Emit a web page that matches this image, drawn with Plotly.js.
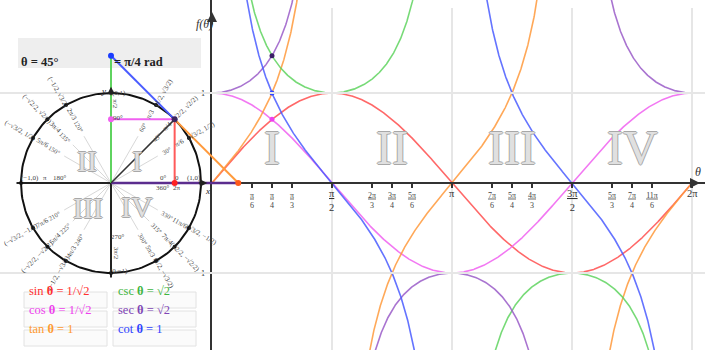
<!DOCTYPE html>
<html><head><meta charset="utf-8">
<script src="https://cdn.plot.ly/plotly-3.0.1.min.js"></script>
<style>html,body{margin:0;padding:0;background:#fff;}#chart{width:705px;height:350px;}</style>
</head><body><div id="chart"></div>
<script>
// ---------------- data ----------------
const thetaDeg = 45;
const thetaText = 'θ = 45°';
const thetaRadText = '= π/4 rad';
const funcNames = ['sin', 'cos', 'tan', 'csc', 'sec', 'cot'];
const funcValueText = ['1/√2', '1/√2', '1', '√2', '√2', '1'];
const tickNum = [1, 1, 1, 1, 2, 3, 5, 1, 7, 5, 4, 3, 5, 7, 11, 2];
const tickDen = [6, 4, 3, 2, 3, 4, 6, 1, 6, 4, 3, 2, 3, 4, 6, 1];
const specialDeg = [30, 45, 60, 120, 135, 150, 210, 225, 240, 300, 315, 330];
const specialRad = ['π/6', 'π/4', 'π/3', '2π/3', '3π/4', '5π/6', '7π/6', '5π/4', '4π/3', '5π/3', '7π/4', '11π/6'];
const specialCoord = ['(√3/2, 1/2)', '(√2/2, √2/2)', '(1/2, √3/2)', '(−1/2, √3/2)', '(−√2/2, √2/2)', '(−√3/2, 1/2)',
  '(−√3/2, −1/2)', '(−√2/2, −√2/2)', '(−1/2, −√3/2)', '(1/2, −√3/2)', '(√2/2, −√2/2)', '(√3/2, −1/2)'];
const quadrantNames = ['I', 'II', 'III', 'IV'];

// ---------------- styles ----------------
const funcColors = ['#ff4d4d', '#f060f0', '#ff9a3c', '#5fd35f', '#9a5cc8', '#4a5cff'];
const textColors = ['#ff3030', '#ee40ee', '#ff9a30', '#3fb53f', '#7f45b5', '#2f44ff'];
const SERIF = 'Liberation Serif, Times New Roman, serif';
const W = 705, H = 350;
const PX = x => x / W, PY = y => 1 - y / H;
const yMax = 183 / 90, yMin = -(H - 183) / 90;
const gScale = 120 / (Math.PI / 2);
const D = Math.PI / 180;

// ---------------- graph curves ----------------
const traces = [];
const fns = {
  sin: t => Math.sin(t), cos: t => Math.cos(t), tan: t => Math.tan(t),
  csc: t => 1 / Math.sin(t), sec: t => 1 / Math.cos(t), cot: t => Math.cos(t) / Math.sin(t)
};
const tGrid = [];
for (let i = 1; i < 1440; i++) tGrid.push(i * 2 * Math.PI / 1440);
tGrid.unshift(0); tGrid.push(2 * Math.PI);
funcNames.forEach((n, k) => {
  const ys = tGrid.map(t => { const v = fns[n](t); return (isFinite(v) && Math.abs(v) < 6) ? v : null; });
  traces.push({ x: tGrid, y: ys, xaxis: 'x', yaxis: 'y', mode: 'lines', line: { color: funcColors[k], width: 1.6 }, opacity: 0.85, hoverinfo: 'skip' });
});
const th = thetaDeg * D;
const cT = Math.cos(th), sT = Math.sin(th);
traces.push({ x: [th, th, th], y: [fns.sin(th), fns.cot(th), fns.sec(th)], xaxis: 'x', yaxis: 'y', mode: 'markers',
  marker: { size: 5, color: ['#ee40ee', '#2f44ff', '#3a1f66'] }, hoverinfo: 'skip' });

// ---------------- unit circle (x2, y) ----------------
const circX = [], circY = [];
for (let a = 0; a <= 360; a += 2) { circX.push(Math.cos(a * D)); circY.push(Math.sin(a * D)); }
const rx = [], ry = [];
specialDeg.forEach(a => { rx.push(0, 0.6 * Math.cos(a * D), null); ry.push(0, 0.6 * Math.sin(a * D), null); });
traces.push({ x: rx, y: ry, xaxis: 'x2', yaxis: 'y', mode: 'lines', line: { color: '#d8d8d8', width: 1 }, hoverinfo: 'skip' });
traces.push({ x: [-1.05, 1.05, null, 0, 0], y: [0, 0, null, -1.05, 1.05], xaxis: 'x2', yaxis: 'y', mode: 'lines', line: { color: '#222', width: 2 }, hoverinfo: 'skip' });
traces.push({ x: circX, y: circY, xaxis: 'x2', yaxis: 'y', mode: 'lines', line: { color: '#111', width: 2 }, hoverinfo: 'skip' });
const dotX = [], dotY = [];
[0, 90, 180, 270].concat(specialDeg).forEach(a => { dotX.push(Math.cos(a * D)); dotY.push(Math.sin(a * D)); });
traces.push({ x: dotX, y: dotY, xaxis: 'x2', yaxis: 'y', mode: 'markers', marker: { size: 4, color: '#111' }, hoverinfo: 'skip' });
const secV = 1 / cT, cscV = 1 / sT;
const seg = (xs, ys, col, w) => traces.push({ x: xs, y: ys, xaxis: 'x2', yaxis: 'y', mode: 'lines', line: { color: col, width: w || 2 }, hoverinfo: 'skip' });
seg([0, secV], [0, 0], '#5b2d8e', 2.5);
seg([0, 0], [0, cscV], '#5fd35f', 2);
seg([0, cT], [sT, sT], '#f060f0', 2);
seg([cT, cT], [0, sT], '#ff5a5a', 2);
seg([0, cT], [0, sT], '#333', 1.5);
seg([0, cT], [cscV, sT], '#4a5cff', 2);
seg([cT, secV], [sT, 0], '#ff9a3c', 2);
traces.push({ x: [cT, 0, secV, 0, cT], y: [0, sT, 0, cscV, sT], xaxis: 'x2', yaxis: 'y', mode: 'markers',
  marker: { size: 6, color: ['#ff2020', '#f060f0', '#ff5a1a', '#1a3cff', '#3a1f66'] }, hoverinfo: 'skip' });

// ---------------- annotations ----------------
const ann = [];
const addA = (o) => ann.push(Object.assign({ showarrow: false, font: { family: SERIF, size: 7, color: '#444' } }, o));
specialDeg.forEach((a, i) => {
  const ca = Math.cos(a * D), sa = Math.sin(a * D);
  const ang = ca > 0 ? -a : 180 - a;
  addA({ xref: 'x2', yref: 'y', x: 0.72 * ca, y: 0.72 * sa, text: a + '°', textangle: ang, font: { family: SERIF, size: 6.5, color: '#555' } });
  addA({ xref: 'x2', yref: 'y', x: 0.88 * ca, y: 0.88 * sa, text: specialRad[i], textangle: ang, font: { family: SERIF, size: 7, color: '#444' } });
  addA({ xref: 'x2', yref: 'y', x: 1.16 * ca, y: 1.16 * sa, text: specialCoord[i], textangle: ang, font: { family: SERIF, size: 7, color: '#444' } });
});
const smallLab = [
  ['(1,0)', 0.92, 0.06], ['0°', 0.58, 0.06], ['0', 0.73, 0.06], ['360°', 0.58, -0.05], ['2π', 0.73, -0.05],
  ['(−1,0)', -0.9, 0.06], ['π', -0.73, 0.06], ['180°', -0.57, 0.06],
  ['(0,1)', 0.09, 1.0], ['90°', 0.08, 0.72], ['270°', 0.08, -0.6], ['(0,−1)', 0.09, -0.98]
];
smallLab.forEach(l => addA({ xref: 'x2', yref: 'y', x: l[1], y: l[2], text: l[0] }));
addA({ xref: 'x2', yref: 'y', x: 0.05, y: 0.88, text: 'π/2', textangle: 90 });
addA({ xref: 'x2', yref: 'y', x: 0.05, y: -0.78, text: '3π/2', textangle: 90 });
addA({ xref: 'x2', yref: 'y', x: -0.08, y: 1.02, text: 'y', font: { family: SERIF, size: 9, color: '#222', style: 'italic' } });
addA({ xref: 'x2', yref: 'y', x: 1.07, y: -0.09, text: 'x', font: { family: SERIF, size: 9, color: '#222', style: 'italic' } });
ann.push({ xref: 'x2', yref: 'y', x: 0, y: 1.07, ax: 0, ay: 10, showarrow: true, arrowhead: 2, arrowsize: 1, arrowwidth: 1.5, arrowcolor: '#222', text: '' });
ann.push({ xref: 'x2', yref: 'y', x: 1.07, y: 0, ax: -10, ay: 0, showarrow: true, arrowhead: 2, arrowsize: 1, arrowwidth: 1.5, arrowcolor: '#222', text: '' });
ann.push({ xref: 'x', yref: 'y', x: 0, y: yMax - 12 / 90, ax: 0, ay: 14, showarrow: true, arrowhead: 2, arrowsize: 1, arrowwidth: 2, arrowcolor: '#333', text: '' });
ann.push({ xref: 'x', yref: 'y', x: 488 / gScale, y: 0, ax: -14, ay: 0, showarrow: true, arrowhead: 2, arrowsize: 1, arrowwidth: 2, arrowcolor: '#333', text: '' });
addA({ xref: 'paper', yref: 'paper', x: PX(194), y: PY(15), text: 'f(θ)', font: { family: SERIF, size: 12, color: '#333', style: 'italic' } });
addA({ xref: 'paper', yref: 'paper', x: PX(703), y: PY(172), text: 'θ', font: { family: SERIF, size: 12, color: '#333', style: 'italic' } });
const romanFont = (sz) => ({ family: SERIF, size: sz, color: '#e0e0e0', shadow: '1px 0 0 #a8a8a8, -1px 0 0 #a8a8a8, 0 1px 0 #a8a8a8, 0 -1px 0 #a8a8a8' });
quadrantNames.forEach((q, i) => {
  addA({ xref: 'x', yref: 'y', x: (2 * i + 1) * Math.PI / 4, y: 0.4, text: q, font: romanFont(48) });
});
const cq = [[0.29, 0.25], [-0.27, 0.25], [-0.26, -0.27], [0.29, -0.26]];
quadrantNames.forEach((q, i) => addA({ xref: 'x2', yref: 'y', x: cq[i][0], y: cq[i][1], text: q, font: romanFont(30) }));
addA({ xref: 'paper', yref: 'paper', x: PX(19), y: PY(53), xanchor: 'left', text: thetaText, font: { family: SERIF, size: 12.5, color: '#222', weight: 'bold' } });
addA({ xref: 'paper', yref: 'paper', x: PX(112), y: PY(53), xanchor: 'left', text: thetaRadText, font: { family: SERIF, size: 12.5, color: '#222', weight: 'bold' } });
const shapes = [];
const boxCols = [24, 113], boxRows = [292, 311, 330];
shapes.push({ type: 'rect', xref: 'paper', yref: 'paper', x0: PX(18), x1: PX(201), y0: PY(38), y1: PY(68), fillcolor: '#eeeeee', line: { width: 0 }, layer: 'below' });
funcNames.forEach((n, k) => {
  const col = Math.floor(k / 3), row = k % 3;
  const x0 = boxCols[col], y0 = boxRows[row];
  shapes.push({ type: 'rect', xref: 'paper', yref: 'paper', x0: PX(x0), x1: PX(x0 + 83), y0: PY(y0), y1: PY(y0 + 16), fillcolor: '#fbfbfb', line: { color: '#e2e2e2', width: 1 }, layer: 'below' });
  addA({ xref: 'paper', yref: 'paper', x: PX(x0 + 3), y: PY(y0 + 8), xanchor: 'left', text: n + ' <b>θ</b> = ' + funcValueText[k], font: { family: SERIF, size: 12.5, color: textColors[k] } });
});
[1, 2, 3, 4].forEach(m => shapes.push({ type: 'line', xref: 'x', yref: 'paper', x0: m * Math.PI / 2, x1: m * Math.PI / 2, y0: 0, y1: PY(8), line: { color: '#e6e6e6', width: 2 }, layer: 'below' }));

// ticks: minor fractions on the axis, multiples of π/2 as larger labels
const tickVals = tickNum.map((n, i) => n * Math.PI / tickDen[i]);
const isMajor = tickDen.map(d => d <= 2);
const tickText = tickNum.map((n, i) => isMajor[i] ? '' : '<u>' + (n === 1 ? '' : n) + 'π</u><br>' + tickDen[i]);
tickNum.forEach((n, i) => {
  if (!isMajor[i]) return;
  const num = (n === 1 ? '' : n) + 'π';
  const txt = tickDen[i] === 1 ? num : '<u>' + num + '</u><br>' + tickDen[i];
  addA({ xref: 'x', yref: 'paper', x: tickVals[i], y: PY(186), yanchor: 'top', text: txt, font: { family: SERIF, size: 10.5, color: '#333' } });
});

const layout = {
  width: W, height: H, margin: { l: 0, r: 0, t: 0, b: 0 },
  paper_bgcolor: '#fff', plot_bgcolor: 'rgba(0,0,0,0)', showlegend: false,
  xaxis: { domain: [212 / W, 1], range: [0, (W - 212) / gScale], anchor: 'free', position: (0 - yMin) / (yMax - yMin),
    showline: true, linecolor: '#333', linewidth: 2, showgrid: false, zeroline: false,
    tickmode: 'array', tickvals: tickVals, ticktext: tickText, ticks: 'outside', ticklen: 4, tickwidth: 2, tickcolor: '#333',
    tickfont: { family: SERIF, size: 8, color: '#444' }, fixedrange: true },
  xaxis2: { domain: [0, 1], range: [-111 / 90, (W - 111) / 90], anchor: 'y', visible: false, fixedrange: true },
  yaxis: { domain: [0, 1], range: [yMin, yMax], anchor: 'x', showline: true, linecolor: '#333', linewidth: 2,
    tickmode: 'array', tickvals: [-1, 1], ticktext: ['-1', '1'], ticks: 'outside', ticklen: 3, tickcolor: '#333',
    showgrid: true, gridcolor: '#e6e6e6', gridwidth: 2, zeroline: false,
    tickfont: { family: SERIF, size: 9, color: '#333' }, fixedrange: true },
  annotations: ann, shapes: shapes
};
Plotly.newPlot('chart', traces, layout, { displayModeBar: false, staticPlot: true });
</script></body></html>
